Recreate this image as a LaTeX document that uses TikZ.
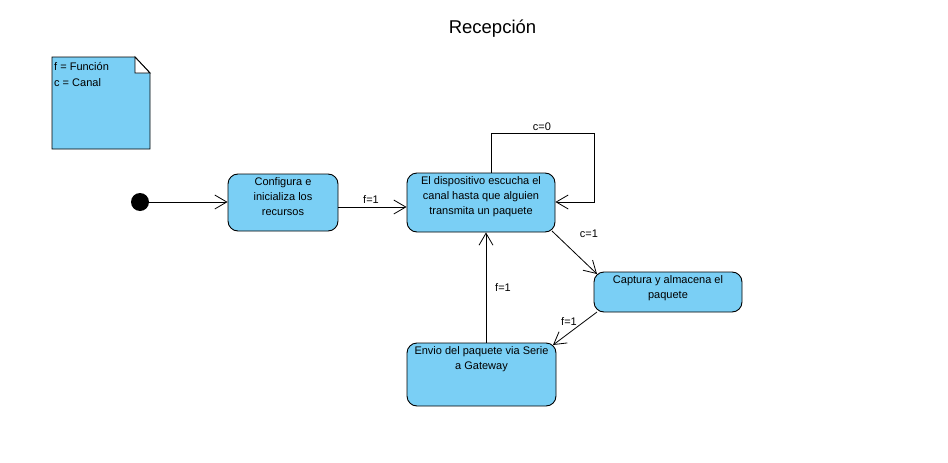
\documentclass[tikz,border=0pt]{standalone}
\usepackage{fontspec}
\setmainfont{Liberation Sans}
\usetikzlibrary{arrows.meta}
\definecolor{stfill}{RGB}{122,207,245}
\tikzset{
  stbox/.style={draw=black, line width=0.9pt, fill=stfill, rounded corners=10pt, inner sep=0pt},
  sttext/.style={font=\fontsize{11}{15}\selectfont, align=center, inner sep=0pt, anchor=north},
  lbl/.style={font=\fontsize{11}{13}\selectfont, inner sep=0pt},
  conn/.style={draw=black, line width=0.8pt, -{Straight Barb[length=12pt,width=14pt,line width=0.8pt]}},
}
\begin{document}
\begin{tikzpicture}[x=1pt,y=-1pt]
\useasboundingbox (0,0) rectangle (948,463);
% title
\node[font=\fontsize{18.5}{20}\selectfont, anchor=base, inner sep=0pt] (title) at (492.5,33) {Recepción};
% note
\coordinate (n1) at (52,57);
\coordinate (n2) at (135,57);
\coordinate (n3) at (150,73);
\coordinate (n4) at (150,149);
\coordinate (n5) at (52,149);
\coordinate (n6) at (135,73);
\draw[line width=0.9pt, fill=stfill] (n1) -- (n2) -- (n3) -- (n4) -- (n5) -- cycle;
\draw[line width=0.9pt, fill=white] (n2) -- (n6) -- (n3) -- cycle;
\node[font=\fontsize{11}{16}\selectfont, align=left, anchor=north west, inner sep=0pt] (notetext) at (54,62) {f = Función\\c = Canal};
% initial
\node[circle, fill=black, minimum size=18pt, inner sep=0pt] (init) at (140,202) {};
% boxes
\node[stbox, minimum width=110pt, minimum height=57pt] (b1) at (283,202.5) {};
\node[sttext] (t1) at ([yshift=-4pt]b1.north) {Configura e\\inicializa los\\recursos};
\node[stbox, minimum width=148pt, minimum height=59pt] (b2) at (481,202.5) {};
\node[sttext] (t2) at ([yshift=-4pt]b2.north) {El dispositivo escucha el\\canal hasta que alguien\\transmita un paquete};
\node[stbox, minimum width=148pt, minimum height=40pt] (b3) at (668,292) {};
\node[sttext] (t3) at ([yshift=-4pt]b3.north) {Captura y almacena el\\paquete};
\node[stbox, minimum width=149pt, minimum height=63pt] (b4) at (481.5,374.5) {};
\node[sttext] (t4) at ([yshift=-4pt]b4.north) {Envio del paquete via Serie\\a Gateway};
% connectors
\draw[conn] (init) -- (b1.west |- init);
\draw[conn] (b1.east |- 0,207) -- (b2.west |- 0,207);
\node[lbl] (l1) at (371,200) {f=1};
\coordinate (lp1) at (491,133);
\coordinate (lp2) at (594,133);
\coordinate (lp3) at (594,202);
\draw[conn] (b2.north -| lp1) -- (lp1) -- (lp2) -- (lp3) -- (b2.east |- lp3);
\node[lbl] (l2) at (542,127) {c=0};
\coordinate (c1s) at (552,231);
\coordinate (c1e) at (597,274);
\draw[conn] (c1s) -- (c1e);
\node[lbl] (l3) at (589,234) {c=1};
\coordinate (c2s) at (597,312);
\coordinate (c2e) at (553,345);
\draw[conn] (c2s) -- (c2e);
\node[lbl] (l4) at (569,322) {f=1};
\coordinate (c3) at (486,0);
\draw[conn] (b4.north -| c3) -- (b2.south -| c3);
\node[lbl] (l5) at (503,288) {f=1};
\end{tikzpicture}
\end{document}
